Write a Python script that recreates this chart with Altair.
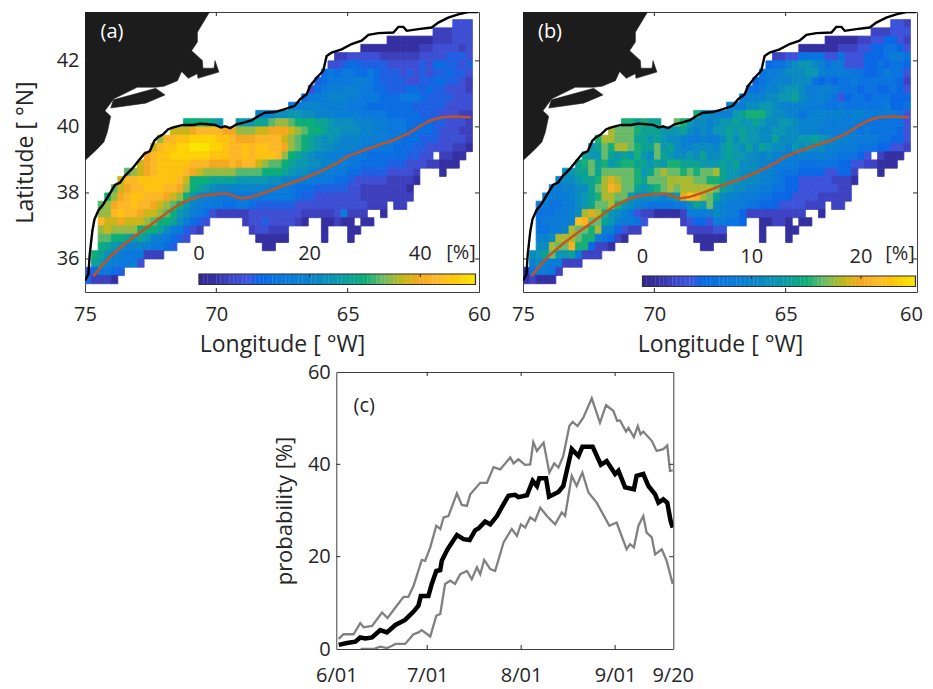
import altair as alt
import pandas as pd

FONT = "Open Sans"
INK = "#262626"
LEVELS = "0123456789abcdefghijk"

# Probability levels per 0.25 degree cell, north to south; groups hold ten columns from 75W ("-" = empty group)
A_ROWS = [
"- - - - - ......333",
"- - - - - ...222333",
"- - - - ......1111 111222333",
"- - - - ..11111111 122333323",
"- - - ........22 3333322222 233334443",
"- - - .......334 5544443333 343554434",
"- - - ......5656 6556544434 343445443",
"- - - .....45666 6776544443 344554432",
"- - - ....356777 8766554445 545443332",
"- - - ...5677888 7766655566 654444333",
"- - - .778887777 6665555555 444443333",
"- - ......8889 9aa9988877 7766665555 544433322",
"- .....ccccb a..aaabbde edcccbba99 9888776665 555443332",
"- ...fffghhh hggeeeffgg gfedccbaa9 9988776665 555433322",
"- .ehhiijjjj iihggghhhh fedcba9a98 8877776655 544433332",
"- fhiijjkkkj jihhihiihh gedcba9988 8776666555 443333221",
".........g hiijjjjjji iihhihiiih ecba988777 6665555554 433.2211.",
"........fg hiiiiihhhg gghghhfedd cbaa998877 6655554443 3322111..",
"......defg hiiiihgfee eeeddddccc ba99877766 5544443333 2...1....",
".....fhhii iiiihfcccb bbbaaaaa99 8877666655 4333332222 1........",
"....dfghhi iihhgecba9 8888888877 7655544444 3322222221",
"...ceghiih hhgfeca877 6666666666 6654433333 3322222222",
"..deghhihh gfedca8766 6556654444 4433333333 333222.22.",
"..eehihhgf fedca97653 2222233333 3332222236 222..1....",
"..hffgfffe dccb97543. ....233433 3321..1121 1.11......",
"..efeeeecc cb976432.. .....23322 2.....1... 11........",
"..ddccbaba 876543.... ......1111 1.....1... 1.........",
"..cba98887 6654...... .......11.",
".cb9876662 22........",
".ba876673.",
"356654....",
"42221.....",
]
B_ROWS = [
"- - - - - ......332",
"- - - - - ...222333",
"- - - - ......1111 122334432",
"- - - - ..11111122 233445543",
"- - - ........22 3355553353 334445665",
"- - - .......455 7899875663 334454554",
"- - - ......5667 8889976666 554456553",
"- - - .....45677 7888545455 655555542",
"- - - ....556778 9986677655 545544543",
"- - - ...6777889 9a87676534 554555444",
"- - - .776889987 7776665565 555556445",
"- - ......b887 779abbb988 7756777776 776666653",
"- .....bbaba a..cb98878 99a99a9889 9877776666 665555553",
"- ...dcccbaa a999a87879 9a9a998899 8877767666 656555543",
"- .bddcccaa9 a988766766 8a8a9988a8 8899a98777 666655443",
"- 9acbddcbaa c9a8778887 9a98a8a988 7989887766 655544332",
".........a 99ca9a9b98 ca98898a88 9a99887877 7676676655 543.2111.",
"........ab cab9abbaa9 a9bbaaa999 a9a8887766 6655555544 3322111..",
"......89aa cacccccb9a cdccbcbccd a998887765 5544443344 2...1....",
".....7889a abdedccbac ccddddccbb a998887765 4433333222 1........",
"....667788 acdfecca9a bcdcdddddc a988776655 4433333322",
"...7666789 abddcc9888 8789egfdca 8776665544 4333322222",
"..66556689 accdb98765 555668a9c8 7666554443 333222.22.",
"..5556678d edb9875322 1111266678 7664222222 222..1....",
"..566667gf cca976653. ....234436 6554..1122 1.11......",
"..55667dcc bd774322.. .....22223 3.....1... 11........",
"..778dddcb b65421.... ......1111 1.....1... 1.........",
"..88dccfbb 4221...... .......11.",
".89ac99a62 22........",
".78666222.",
"156652....",
"12111.....",
]

COAST_LON = [75.0,74.87,74.82,74.72,74.64,74.49,74.30,74.11,73.86,73.67,73.48,73.22,72.97,72.74,72.53,72.36,72.23,72.02,71.83,71.57,71.26,70.88,70.62,70.30,70.05,69.82,69.67,69.48,69.23,68.97,68.65,68.40,68.15,67.77,67.39,67.01,66.81,66.56,66.43,66.18,65.93,65.80,65.61,65.23,64.85,64.47,64.21,63.83,63.26,63.07,62.88,62.75,62.31,61.80,61.55,61.17,60.79,60.41,60.05]
COAST_LAT = [35.35,35.54,36.14,36.85,37.20,37.47,37.66,37.91,38.24,38.31,38.52,38.72,38.97,39.19,39.27,39.58,39.68,39.78,39.93,40.00,40.06,40.06,40.10,40.08,40.06,39.98,40.02,39.96,40.08,40.13,40.20,40.33,40.43,40.45,40.54,40.64,40.84,40.99,41.24,41.49,41.70,42.15,42.25,42.35,42.51,42.61,42.79,42.84,42.86,43.03,43.03,42.91,42.96,43.01,43.16,43.31,43.41,43.48,43.48]
STREAM_LON = [74.68,74.37,73.98,73.48,72.91,72.34,71.83,71.45,71.00,70.56,70.05,69.61,69.35,69.04,68.65,68.15,67.51,66.75,66.12,65.48,64.97,64.47,63.83,63.32,62.69,62.18,61.80,61.42,60.91,60.30]
STREAM_LAT = [35.48,35.79,36.12,36.46,36.80,37.13,37.43,37.64,37.81,37.91,37.96,37.98,37.91,37.83,37.88,38.01,38.21,38.41,38.62,38.87,39.12,39.27,39.45,39.58,39.80,40.06,40.21,40.29,40.32,40.29]
LAND_LON = [75.0,70.25,70.72,70.72,70.94,70.53,70.51,70.09,70.05,69.90,70.70,70.72,71.07,71.32,71.48,71.99,72.31,73.01,73.90,74.24,74.02,74.15,74.28,74.53,75.0]
LAND_LAT = [43.49,43.49,42.87,42.57,42.31,42.01,41.78,41.78,42.01,41.66,41.47,41.61,41.47,41.68,41.40,41.23,41.20,41.20,40.85,40.49,40.32,39.84,39.54,39.33,38.98]
ISLAND_LON = [74.02,73.92,72.31,71.95,72.69,74.02]
ISLAND_LAT = [40.57,40.82,41.17,40.97,40.72,40.57]

MEAN_DAY = [0.8,3.5,6.3,7.9,9.6,11.8,14.5,16.7,19.5,22.7,25.5,27.1,27.9,30.4,31.5,33,34.3,34.8,36.7,39.8,42,44,45.8,46.9,49.1,50.8,53,55.2,56.8,59,60.1,62.9,64.8,66.2,67,69.2,70.2,73.3,74.9,76.3,77.7,79.9,81.2,84.6,87.3,89.2,92,93.1,95.3,98.2,99.1,101.3,103,105.2,106.3,107.9,109.2,110.3,111]
MEAN_VAL = [0.9,1.3,1.6,2.5,2.3,2.5,4.1,3.6,5.2,6.3,8.1,9.4,11.5,11.5,14.1,16.9,17.1,19.1,21.6,24.7,23.8,23.6,25.7,26.1,27.6,27.0,28.8,31.4,33.2,33.4,32.9,33.3,36.4,35.3,37,37,33,34,35.3,39.3,43.3,41.8,43.8,43.8,39.9,40.7,37.9,38.6,35,34.6,37.5,37.9,35.3,33.5,31.7,32.4,31.7,27.8,26.3]
UPPER_DAY = [0.8,2.4,5.7,7.9,9,11.8,15.1,16.9,19.5,22.2,23.8,25.5,28.2,29.3,31,33,34.3,35.4,37,39.8,41.4,43.1,44.2,47.5,49.7,51.9,54.1,57.4,58.5,60.1,62.3,64,65,66.2,68.4,70.3,71.9,73.3,74.9,76.9,78,79.6,81.5,84.3,87,89,91.4,92.7,93.6,95.6,96.4,98.2,99.5,100.4,101.3,104.1,105.7,107.9,109.2,110.1,111]
UPPER_VAL = [2.2,3.2,3.2,5.6,4.7,5,7.9,6.7,9,11.3,11.3,13.7,19.3,19.1,22,26.7,26,28.5,28.8,33.7,31.2,31,33.5,36,36,39.4,38.9,41.5,40.2,41.1,39.9,40,44.8,42.9,44.7,38.2,40.2,39.3,41.8,48.3,49.2,48.3,50.1,54.3,49,52.8,51.6,49.4,49.5,47.1,47.9,45.9,48.3,46.5,47.1,45.1,42.9,43.3,44.1,38.6,38.7]
LOWER_DAY = [8,12.3,14.5,16.7,18.4,19.5,22.7,25.5,27.1,28.2,31,33,34.3,35.9,37.6,39.2,40.9,43.1,44.7,46.4,47.5,48.8,50.8,52.4,55.2,57.9,59.6,60.9,62.3,64,65.6,67.3,69.5,72.2,74.4,75.5,77.7,79.3,81.2,83.2,85.9,90.1,92.5,95.8,96.9,98.2,99.7,101.3,102.4,104.1,105.2,107.4,109,111]
LOWER_VAL = [0,0,.5,.2,.7,1.1,1.1,3.2,3.6,4.1,2.7,7.2,7.6,14.1,14.8,14.1,16.2,16.9,15.1,17.7,16.2,19.3,17.3,16.9,23.1,26,24.5,27,26.3,28.5,27.8,30.6,28.8,27,29.6,28.8,37.5,35.3,38.2,33.9,31.7,26.7,27.4,21.6,22.7,22,26.7,28.8,25.2,24.2,20.5,21.6,19.1,14.1]

LON_TICKS = [75, 70, 65, 60]
LAT_TICKS = [36, 38, 40, 42]
DAY_TICKS = [0, 30, 61, 92, 111]
DAY_LABELS = ["6/01", "7/01", "8/01", "9/01", "9/20"]
PROB_TICKS = [0, 20, 40, 60]

STOP_FRAC = [0, .06, .12, .18, .215, .30, .40, .50, .60, .665, .74, .80, .86, .91, 1]
STOP_COL = ["#32288f", "#3531a4", "#3f47c8", "#3c57e0", "#0a66e6", "#0a78dc", "#0a82cc", "#0b97b0", "#0cad78", "#6dbb68", "#c4b818", "#f5a820", "#fdba2a", "#fec40a", "#fbe500"]

W, H = 394, 280
SX = alt.Scale(domain=[75, 60], nice=False, zero=False)
SY = alt.Scale(domain=[35, 43.48], nice=False, zero=False)


def cells(rows, unit):
    out = []
    for j, row in enumerate(rows):
        for g, group in enumerate(row.split()):
            if group == "-":
                continue
            for c, ch in enumerate(group):
                if ch == ".":
                    continue
                i = g * 10 + c
                out.append({"lon0": 75 - .25 * i, "lon1": 74.75 - .25 * i,
                            "lat1": 43.25 - .25 * j, "lat0": 43.0 - .25 * j,
                            "v": LEVELS.index(ch) * unit})
    return pd.DataFrame(out)


def ticks(tvals_x, tvals_y, sx, sy, w, h):
    dx = pd.DataFrame({"t": tvals_x})
    dy = pd.DataFrame({"t": tvals_y})
    L = 4
    X = alt.X("t:Q", scale=sx, axis=None)
    Y = alt.Y("t:Q", scale=sy, axis=None)
    col = alt.value(INK)
    return [
        alt.Chart(dx).mark_rule(strokeWidth=1).encode(x=X, y=alt.value(0), y2=alt.value(L), color=col),
        alt.Chart(dx).mark_rule(strokeWidth=1).encode(x=X, y=alt.value(h - L), y2=alt.value(h), color=col),
        alt.Chart(dy).mark_rule(strokeWidth=1).encode(y=Y, x=alt.value(0), x2=alt.value(L), color=col),
        alt.Chart(dy).mark_rule(strokeWidth=1).encode(y=Y, x=alt.value(w - L), x2=alt.value(w), color=col),
    ]


def panel(rows, vmax, unit, bar_lo, bar_hi, bar_top, label_y, labels, tag, pct_x, pct_y, with_y):
    df = cells(rows, unit)
    color_scale = alt.Scale(domain=[f * vmax for f in STOP_FRAC], range=STOP_COL, interpolate="rgb")
    offset = 0 if with_y else {"condition": {"test": "datum.value == 60", "value": -6}, "value": 0}
    xaxis = alt.Axis(values=LON_TICKS, tickSize=0, grid=False, domain=False, format="d", labelPadding=12.5,
                     labelFontSize=20, titleFontSize=23, titleFontWeight="normal", titlePadding=8.5,
                     labelColor=INK, titleColor=INK, labelFont=FONT, titleFont=FONT, labelOverlap=False,
                     labelFlush=False, labelOffset=offset, title="Longitude [ °W]")
    if with_y:
        yaxis = alt.Axis(values=LAT_TICKS, tickSize=0, grid=False, domain=False, format="d", labelPadding=6,
                         labelFontSize=20, titleFontSize=23, titleFontWeight="normal", titlePadding=18.7,
                         labelColor=INK, titleColor=INK, labelFont=FONT, titleFont=FONT,
                         title="Latitude [ °N]")
    else:
        yaxis = alt.Axis(values=LAT_TICKS, tickSize=0, grid=False, domain=False, labels=False, title=None)
    heat = alt.Chart(df).mark_rect(strokeWidth=.8, clip=True).encode(
        x=alt.X("lon0:Q", scale=SX, axis=xaxis), x2="lon1:Q",
        y=alt.Y("lat0:Q", scale=SY, axis=yaxis), y2="lat1:Q",
        color=alt.Color("v:Q", scale=color_scale, legend=None),
        stroke=alt.Stroke("v:Q", scale=color_scale, legend=None),
    )
    px = alt.X("lon:Q", scale=SX, axis=None)
    py = alt.Y("lat:Q", scale=SY, axis=None)
    land = pd.DataFrame({"lon": LAND_LON, "lat": LAND_LAT, "k": range(len(LAND_LON)), "p": "land"})
    isle = pd.DataFrame({"lon": ISLAND_LON, "lat": ISLAND_LAT, "k": range(len(ISLAND_LON)), "p": "isle"})
    land_layer = alt.Chart(pd.concat([land, isle])).mark_line(
        fill="#1c1c1c", stroke="#1c1c1c", strokeWidth=.5, clip=True
    ).encode(x=px, y=py, order="k:Q", detail="p:N")
    coast = pd.DataFrame({"lon": COAST_LON, "lat": COAST_LAT, "k": range(len(COAST_LON))})
    coast_layer = alt.Chart(coast).mark_line(color="#000000", strokeWidth=2.4, clip=True).encode(x=px, y=py, order="k:Q")
    stream = pd.DataFrame({"lon": STREAM_LON, "lat": STREAM_LAT, "k": range(len(STREAM_LON))})
    stream_layer = alt.Chart(stream).mark_line(color="#c9521c", strokeWidth=2.4, clip=True).encode(x=px, y=py, order="k:Q")

    cb_scale = alt.Scale(domain=[0, vmax], range=[bar_lo, bar_hi], nice=False, zero=False)
    steps = [vmax * k / 64 for k in range(64)]
    cb = pd.DataFrame({"v0": steps, "v1": [s + vmax / 64 for s in steps], "v": [s + vmax / 128 for s in steps]})
    bar_h = 10.5
    bar = alt.Chart(cb).mark_rect(strokeWidth=.3).encode(
        x=alt.X("v0:Q", scale=cb_scale, axis=None), x2="v1:Q",
        y=alt.value(bar_top), y2=alt.value(bar_top + bar_h),
        color=alt.Color("v:Q", scale=color_scale, legend=None),
        stroke=alt.Stroke("v:Q", scale=color_scale, legend=None),
    )
    frame = alt.Chart(pd.DataFrame({"k": [0]})).mark_rect(fillOpacity=0, stroke="#303030", strokeWidth=1.2).encode(
        x=alt.value(bar_lo), x2=alt.value(bar_hi), y=alt.value(bar_top), y2=alt.value(bar_top + bar_h))
    lab = pd.DataFrame({"v": labels, "s": [str(v) for v in labels]})
    bar_ticks = alt.Chart(lab[lab.v > 0]).mark_rule(strokeWidth=1).encode(
        x=alt.X("v:Q", scale=cb_scale, axis=None), y=alt.value(bar_top), y2=alt.value(bar_top + 3), color=alt.value(INK))
    bar_text = alt.Chart(lab).mark_text(font=FONT, fontSize=20, color=INK, baseline="middle", align="center").encode(
        x=alt.X("v:Q", scale=cb_scale, axis=None), y=alt.value(label_y), text="s:N")
    pct = alt.Chart(pd.DataFrame({"s": ["[%]"]})).mark_text(font=FONT, fontSize=20, color=INK, baseline="middle", align="center").encode(
        x=alt.value(pct_x), y=alt.value(pct_y), text="s:N")
    name = alt.Chart(pd.DataFrame({"s": [tag]})).mark_text(font=FONT, fontSize=20, color="#ffffff", baseline="middle", align="center").encode(
        x=alt.value(27), y=alt.value(20), text="s:N")
    layers = [heat, land_layer, coast_layer, stream_layer] + ticks(LON_TICKS[1:3], LAT_TICKS, SX, SY, W, H) + [
        bar, frame, bar_ticks, bar_text, pct, name]
    return alt.layer(*layers).resolve_scale(x="independent", y="independent").properties(width=W, height=H)


a = panel(A_ROWS, 50, 2.5, 114, 390.5, 262, 242, [0, 20, 40], "(a)", 376, 240.5, True)
b = panel(B_ROWS, 25, 1.38, 119.5, 392.5, 264, 245, [0, 10, 20], "(b)", 377, 242, False)

CW, CH = 337, 277
SD = alt.Scale(domain=[0, 111.2], nice=False, zero=False)
SP = alt.Scale(domain=[0, 60], nice=False, zero=False)
label_map = "{" + ",".join(f"{d}:'{s}'" for d, s in zip(DAY_TICKS, DAY_LABELS)) + "}"
xc = alt.Axis(values=DAY_TICKS, tickSize=0, grid=False, domain=False, labelPadding=16, labelFontSize=20,
              labelColor=INK, labelFont=FONT, labelExpr=f"{label_map}[datum.value]", labelOverlap=False, labelFlush=False, title=None)
yc = alt.Axis(values=PROB_TICKS, tickSize=0, grid=False, domain=False, labelPadding=6, labelFontSize=20,
              labelColor=INK, labelFont=FONT, titleFontSize=22, titleFontWeight="normal", titleColor=INK, titleFont=FONT,
              titlePadding=11, title="probability [%]")


def series(days, vals, color, width, xaxis=None, yaxis=None):
    d = pd.DataFrame({"d": days, "p": vals})
    return alt.Chart(d).mark_line(color=color, strokeWidth=width, clip=True).encode(
        x=alt.X("d:Q", scale=SD, axis=xaxis), y=alt.Y("p:Q", scale=SP, axis=yaxis))


c_name = alt.Chart(pd.DataFrame({"s": ["(c)"]})).mark_text(font=FONT, fontSize=20, color=INK, baseline="middle", align="center").encode(
    x=alt.value(28), y=alt.value(34), text="s:N")
c = alt.layer(
    series(UPPER_DAY, UPPER_VAL, "#808080", 2.3, xc, yc),
    series(LOWER_DAY, LOWER_VAL, "#808080", 2.3),
    series(MEAN_DAY, MEAN_VAL, "#000000", 4.5),
    *ticks(DAY_TICKS[1:4], PROB_TICKS[1:3], SD, SP, CW, CH),
    c_name,
).resolve_scale(x="independent", y="independent").properties(width=CW, height=CH)

spacer = alt.Chart(pd.DataFrame({"k": [0]})).mark_point(opacity=0).encode(
    x=alt.value(0), y=alt.value(0)).properties(width=241, height=CH, view=alt.ViewBackground(stroke=None))

top = alt.hconcat(a, b, spacing=44, bounds="flush").resolve_scale(color="independent", stroke="independent")
bottom = alt.hconcat(spacer, c, spacing=10.3, bounds="flush")
chart = alt.vconcat(top, bottom, spacing=4).properties(
    padding={"left": 5, "top": 3, "right": 0, "bottom": 30}
).configure_view(stroke="#404040", strokeWidth=1)

chart.save("out.html", embed_options={"renderer": "svg", "actions": False})
